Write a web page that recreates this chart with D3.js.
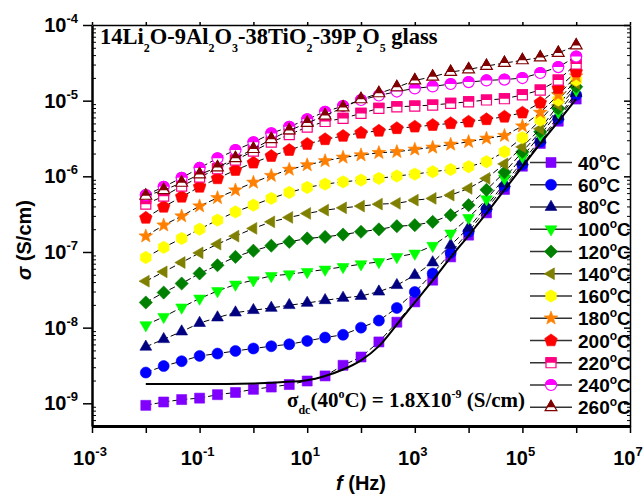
<!DOCTYPE html>
<html lang="en">
<head>
<meta charset="UTF-8">
<title>Conductivity spectra of Li2O-Al2O3-TiO2-P2O5 glass</title>
<script src="https://cdn.jsdelivr.net/npm/d3@7"></script>
<style>
    body{ margin:0; background:#fff; }
    svg{ display:block; }
    .sans{ font-family:"Liberation Sans", Arial, sans-serif; font-weight:bold; }
    .serif{ font-family:"Liberation Serif", "Times New Roman", serif; font-weight:bold; }
</style>
</head>
<body>
<svg id="main" width="644" height="496"></svg>
<script>
// frequencies (Hz), 3 points per decade
const freq = [0.01, 0.0215, 0.0464, 0.1, 0.215, 0.464, 1, 2.15, 4.64, 10, 21.5, 46.4, 100,
    215, 464, 1e3, 2.15e3, 4.64e3, 1e4, 2.15e4, 4.64e4, 1e5, 2.15e5, 4.64e5, 1e6];

const temps = ["40", "60", "80", "100", "120", "140", "160", "180", "200", "220", "240", "260"];

// sigma (S/cm)
const s40 = [9.4e-10, 1.04e-9, 1.12e-9, 1.17e-9, 1.30e-9, 1.39e-9, 1.53e-9, 1.64e-9, 1.77e-9, 1.97e-9, 2.30e-9, 3.18e-9, 4.09e-9, 6.47e-9, 1.18e-8, 2.19e-8, 4.24e-8, 8.61e-8, 1.67e-7, 3.29e-7, 6.71e-7, 1.36e-6, 2.72e-6, 5.35e-6, 1.05e-5];
const s60 = [2.55e-9, 3.11e-9, 3.60e-9, 4.23e-9, 4.54e-9, 4.92e-9, 5.30e-9, 5.68e-9, 6.03e-9, 6.67e-9, 7.40e-9, 8.05e-9, 1.0e-8, 1.24e-8, 1.82e-8, 2.96e-8, 5.20e-8, 9.73e-8, 1.85e-7, 3.71e-7, 7.35e-7, 1.43e-6, 2.86e-6, 5.77e-6, 1.19e-5];
const s80 = [5.58e-9, 7.03e-9, 8.87e-9, 1.15e-8, 1.36e-8, 1.58e-8, 1.70e-8, 1.82e-8, 1.98e-8, 2.12e-8, 2.30e-8, 2.47e-8, 2.62e-8, 2.99e-8, 3.64e-8, 4.93e-8, 7.26e-8, 1.23e-7, 2.08e-7, 4.04e-7, 8.05e-7, 1.56e-6, 3.05e-6, 6.17e-6, 1.26e-5];
const s100 = [1.08e-8, 1.39e-8, 1.85e-8, 2.43e-8, 3.05e-8, 3.72e-8, 4.24e-8, 4.83e-8, 5.08e-8, 5.46e-8, 5.87e-8, 6.35e-8, 6.90e-8, 7.40e-8, 8.61e-8, 9.55e-8, 1.21e-7, 1.76e-7, 2.82e-7, 4.99e-7, 9.38e-7, 1.81e-6, 3.51e-6, 7.06e-6, 1.38e-5];
const s120 = [2.15e-8, 2.91e-8, 3.83e-8, 5.20e-8, 6.68e-8, 8.61e-8, 1.04e-7, 1.21e-7, 1.36e-7, 1.51e-7, 1.58e-7, 1.70e-7, 1.85e-7, 1.99e-7, 2.19e-7, 2.26e-7, 2.50e-7, 3.07e-7, 4.16e-7, 6.62e-7, 1.13e-6, 2.11e-6, 3.88e-6, 7.91e-6, 1.53e-5];
const s140 = [4.11e-8, 5.46e-8, 7.26e-8, 9.73e-8, 1.27e-7, 1.62e-7, 2.05e-7, 2.50e-7, 2.86e-7, 3.23e-7, 3.57e-7, 3.83e-7, 4.04e-7, 4.29e-7, 4.39e-7, 4.84e-7, 5.11e-7, 5.64e-7, 6.92e-7, 9.38e-7, 1.46e-6, 2.45e-6, 4.24e-6, 8.75e-6, 1.69e-5];
const s160 = [8.45e-8, 1.15e-7, 1.51e-7, 2.00e-7, 2.64e-7, 3.39e-7, 4.16e-7, 5.11e-7, 6.12e-7, 7.13e-7, 7.89e-7, 8.45e-7, 8.91e-7, 9.38e-7, 1.01e-6, 1.07e-6, 1.15e-6, 1.23e-6, 1.34e-6, 1.56e-6, 2.11e-6, 3.25e-6, 5.53e-6, 1.02e-5, 1.87e-5];
const s180 = [1.62e-7, 2.26e-7, 2.98e-7, 4.04e-7, 5.20e-7, 6.56e-7, 8.30e-7, 1.02e-6, 1.23e-6, 1.41e-6, 1.60e-6, 1.78e-6, 1.91e-6, 2.05e-6, 2.11e-6, 2.27e-6, 2.41e-6, 2.64e-6, 2.86e-6, 3.17e-6, 3.45e-6, 4.61e-6, 6.97e-6, 1.19e-5, 2.11e-5];
const s200 = [2.82e-7, 3.95e-7, 5.36e-7, 7.26e-7, 9.38e-7, 1.21e-6, 1.51e-6, 1.85e-6, 2.22e-6, 2.67e-6, 3.08e-6, 3.41e-6, 3.76e-6, 3.99e-6, 4.31e-6, 4.52e-6, 4.75e-6, 5.01e-6, 5.26e-6, 5.66e-6, 6.12e-6, 6.92e-6, 9.38e-6, 1.46e-5, 2.41e-5];
const s220 = [4.29e-7, 5.47e-7, 7.41e-7, 9.75e-7, 1.26e-6, 1.64e-6, 2.15e-6, 2.83e-6, 3.56e-6, 4.48e-6, 5.30e-6, 5.83e-6, 6.79e-6, 7.91e-6, 8.30e-6, 8.49e-6, 8.75e-6, 9.20e-6, 9.66e-6, 1.02e-5, 1.06e-5, 1.19e-5, 1.38e-5, 1.87e-5, 3.05e-5];
const s240 = [5.64e-7, 7.26e-7, 9.55e-7, 1.29e-6, 1.73e-6, 2.22e-6, 2.81e-6, 3.69e-6, 4.52e-6, 5.66e-6, 7.13e-6, 8.49e-6, 1.02e-5, 1.17e-5, 1.32e-5, 1.45e-5, 1.54e-5, 1.66e-5, 1.76e-5, 1.85e-5, 1.90e-5, 1.99e-5, 2.32e-5, 2.78e-5, 3.83e-5];
const s260 = [5.52e-7, 6.56e-7, 8.20e-7, 1.06e-6, 1.31e-6, 1.73e-6, 2.29e-6, 3.10e-6, 4.03e-6, 5.06e-6, 6.35e-6, 8.11e-6, 1.04e-5, 1.25e-5, 1.50e-5, 1.85e-5, 2.07e-5, 2.39e-5, 2.59e-5, 2.87e-5, 3.14e-5, 3.41e-5, 3.72e-5, 4.27e-5, 5.36e-5];

// dc fit curve for 40 C
const fitFreq = [0.01, 0.1, 1, 3.16, 10, 21.5, 46.4, 100, 215, 464, 1e3, 2.15e3, 4.64e3, 1e4, 2.15e4, 4.64e4, 1e5, 2.15e5, 4.64e5, 1e6];
const fitSigma = [1.8e-9, 1.8e-9, 1.83e-9, 1.9e-9, 2.02e-9, 2.3e-9, 2.8e-9, 3.7e-9, 5.7e-9, 1.1e-8, 2.15e-8, 4.2e-8, 8.5e-8, 1.65e-7, 3.25e-7, 6.6e-7, 1.34e-6, 2.7e-6, 5.3e-6, 1.05e-5];

const xTickExp = [-3, -2, -1, 0, 1, 2, 3, 4, 5, 6, 7];
const xLabelExp = [-3, -1, 1, 3, 5, 7];
const yTickExp = [-9, -8, -7, -6, -5, -4];

const allSeries = [s40, s60, s80, s100, s120, s140, s160, s180, s200, s220, s240, s260];
const colors = ["#7f00ff", "#0000ff", "#000080", "#00ff00", "#008000", "#808000",
    "#ffff00", "#ff8000", "#ff0000", "#ff0080", "#ff00ff", "#800000"];
const shapes = ["square", "circle", "triUp", "triDown", "diamond", "triLeft",
    "hexagon", "star", "pentagon", "square", "circle", "triUp"];
const halfFilled = [false, false, false, false, false, false, false, false, false, true, true, true];

const plot = {left: 92, right: 630, top: 25, bottom: 426};

const svg = d3.select("#main");

const x = d3.scaleLog().domain([1e-3, 1e7]).range([plot.left, plot.right]);
const y = d3.scaleLog().domain([Math.pow(10, -9.3), 1e-4]).range([plot.bottom, plot.top]);

// marker shapes
function poly(n, r, startDeg){
    const pts = d3.range(n).map(k => {
        const a = (startDeg + k * 360 / n) * Math.PI / 180;
        return [r * Math.cos(a), r * Math.sin(a)];
    });
    return "M" + pts.map(p => p[0].toFixed(2) + "," + p[1].toFixed(2)).join("L") + "Z";
}
function starPath(ro, ri){
    const pts = d3.range(10).map(k => {
        const a = (-90 + k * 36) * Math.PI / 180;
        const r = k % 2 ? ri : ro;
        return [r * Math.cos(a), r * Math.sin(a)];
    });
    return "M" + pts.map(p => p[0].toFixed(2) + "," + p[1].toFixed(2)).join("L") + "Z";
}
const shapePath = {
    square: "M-5,-5H5V5H-5Z",
    circle: d3.symbol(d3.symbolCircle, 95)(),
    triUp: poly(3, 6.8, -90),
    triDown: poly(3, 6.8, 90),
    triLeft: poly(3, 6.8, 180),
    diamond: poly(4, 6.6, -90),
    hexagon: poly(6, 6.2, -90),
    star: starPath(7.2, 3.0),
    pentagon: poly(5, 6.6, -90)
};

const defs = svg.append("defs");
defs.append("clipPath").attr("id", "topHalf")
    .append("rect").attr("x", -10).attr("y", -10).attr("width", 20).attr("height", 10);

function drawMarker(g, si){
    const c = colors[si];
    if(halfFilled[si]){
        g.append("path").attr("d", shapePath[shapes[si]])
            .attr("fill", "#fff").attr("stroke", c).attr("stroke-width", 1.2);
        g.append("path").attr("d", shapePath[shapes[si]])
            .attr("fill", c).attr("stroke", c).attr("stroke-width", 1.2)
            .attr("clip-path", "url(#topHalf)");
    } else {
        g.append("path").attr("d", shapePath[shapes[si]])
            .attr("fill", c).attr("stroke", c).attr("stroke-width", 0.6);
    }
}

// series
const line = d3.line().x(d => x(d[0])).y(d => y(d[1]));
const dataG = svg.append("g");
allSeries.forEach((s, si) => {
    const pts = freq.map((f, i) => [f, s[i]]);
    dataG.append("path")
        .attr("d", line(pts))
        .attr("fill", "none")
        .attr("stroke", "#000")
        .attr("stroke-width", 1)
        .attr("stroke-dasharray", "6,3");
    pts.forEach(p => {
        const g = dataG.append("g").attr("transform", `translate(${x(p[0])},${y(p[1])})`);
        drawMarker(g, si);
    });
});

// dc fit
dataG.append("path")
    .attr("d", d3.line().x(d => x(d[0])).y(d => y(d[1])).curve(d3.curveMonotoneX)(fitFreq.map((f, i) => [f, fitSigma[i]])))
    .attr("fill", "none").attr("stroke", "#000").attr("stroke-width", 2);

// axes
const decades = e => e.map(v => Math.pow(10, v));
const minorY = [];
for(let e = -10; e < -4; e++){ for(let m = 2; m < 10; m++){ const v = m * Math.pow(10, e); if(v > y.domain()[0] && v < 1e-4) minorY.push(v); } }

function styleAxis(g, w){
    g.selectAll("path.domain").attr("stroke", "#000").attr("stroke-width", w);
    g.selectAll(".tick line").attr("stroke", "#000").attr("stroke-width", 1.5);
    g.selectAll(".tick text").remove();
}

svg.append("g").attr("transform", `translate(0,${plot.top})`)
    .call(d3.axisTop(x).tickValues(decades(xTickExp)).tickSize(3).tickSizeOuter(0).tickFormat(""))
    .call(g => styleAxis(g, 1.5));
svg.append("g").attr("transform", `translate(${plot.right},0)`)
    .call(d3.axisLeft(y).tickValues(decades(yTickExp)).tickSize(6).tickSizeOuter(0).tickFormat(""))
    .call(g => styleAxis(g, 1.5));
svg.append("g").attr("transform", `translate(${plot.right},0)`)
    .call(d3.axisLeft(y).tickValues(minorY).tickSize(3).tickSizeOuter(0).tickFormat(""))
    .call(g => { styleAxis(g, 0); g.selectAll(".tick line").attr("stroke-width", 1); });
svg.append("g").attr("transform", `translate(${plot.left},0)`)
    .call(d3.axisRight(y).tickValues(minorY).tickSize(4).tickSizeOuter(0).tickFormat(""))
    .call(g => { styleAxis(g, 0); g.selectAll(".tick line").attr("stroke-width", 1); });
svg.append("g").attr("transform", `translate(0,${plot.bottom})`)
    .call(d3.axisBottom(x).tickValues(decades(xTickExp)).tickSize(7).tickSizeOuter(0).tickFormat(""))
    .call(g => styleAxis(g, 3));
svg.append("g").attr("transform", `translate(${plot.left},0)`)
    .call(d3.axisLeft(y).tickValues(decades(yTickExp)).tickSize(9).tickSizeOuter(0).tickFormat(""))
    .call(g => styleAxis(g, 2.5));

// tick labels (10 with superscript exponent)
function powerLabel(sel, exp){
    sel.append("tspan").text("10");
    sel.append("tspan").attr("font-size", 13).attr("dy", -9).text(exp);
}
xLabelExp.forEach(e => {
    svg.append("text").attr("class", "sans").attr("font-size", 20)
        .attr("x", x(Math.pow(10, e)) - 2).attr("y", 465)
        .attr("text-anchor", "middle")
        .call(t => powerLabel(t, e));
});
yTickExp.forEach(e => {
    svg.append("text").attr("class", "sans").attr("font-size", 20)
        .attr("x", 78).attr("y", y(Math.pow(10, e)) + 7)
        .attr("text-anchor", "end")
        .call(t => powerLabel(t, e));
});

// axis titles
const xt = svg.append("text").attr("class", "sans").attr("font-size", 20)
    .attr("x", (plot.left + plot.right) / 2).attr("y", 490).attr("text-anchor", "middle");
xt.append("tspan").attr("font-style", "italic").text("f");
xt.append("tspan").text(" (Hz)");

const yt = svg.append("text").attr("class", "sans").attr("font-size", 20)
    .attr("transform", "translate(31,240) rotate(-90)").attr("text-anchor", "middle");
yt.append("tspan").attr("font-style", "italic").text("σ");
yt.append("tspan").text(" (S/cm)");

// title with subscripts
const titleParts = [["14Li", 0], ["2", 1], ["O-9Al", 0], ["2", 1], ["O", 0], ["3", 1], ["-38TiO", 0], ["2", 1],
    ["-39P", 0], ["2", 1], ["O", 0], ["5", 1], [" glass", 0]];
const title = svg.append("text").attr("class", "serif").attr("font-size", 22.5).attr("x", 100).attr("y", 44);
let shifted = 0;
titleParts.forEach(p => {
    const dy = p[1] ? 8 - shifted : -shifted;
    shifted = p[1] ? 8 : 0;
    title.append("tspan").attr("dy", dy).attr("font-size", p[1] ? 12 : 22.5).text(p[0]);
});

// dc annotation
const dc = svg.append("text").attr("class", "serif").attr("font-size", 21).attr("x", 287).attr("y", 407);
dc.append("tspan").text("σ");
dc.append("tspan").attr("font-size", 12).attr("dy", 7).text("dc");
dc.append("tspan").attr("dy", -7).text("(40");
dc.append("tspan").attr("font-size", 12).attr("dy", -9).text("o");
dc.append("tspan").attr("dy", 9).text("C) = 1.8X10");
dc.append("tspan").attr("font-size", 12).attr("dy", -9).text("-9");
dc.append("tspan").attr("dy", 9).text(" (S/cm)");

// legend
const legend = svg.append("g");
temps.forEach((t, i) => {
    const ly = 162.5 + i * 22.25;
    legend.append("line").attr("x1", 530).attr("x2", 572).attr("y1", ly).attr("y2", ly)
        .attr("stroke", "#333").attr("stroke-width", 1.3);
    drawMarker(legend.append("g").attr("transform", `translate(551,${ly})`), i);
    const lt = legend.append("text").attr("class", "sans").attr("font-size", 19)
        .attr("x", 578).attr("y", ly + 7);
    lt.append("tspan").text(t);
    lt.append("tspan").attr("font-size", 12).attr("dy", -8).text("o");
    lt.append("tspan").attr("dy", 8).text("C");
});
</script>
</body>
</html>
